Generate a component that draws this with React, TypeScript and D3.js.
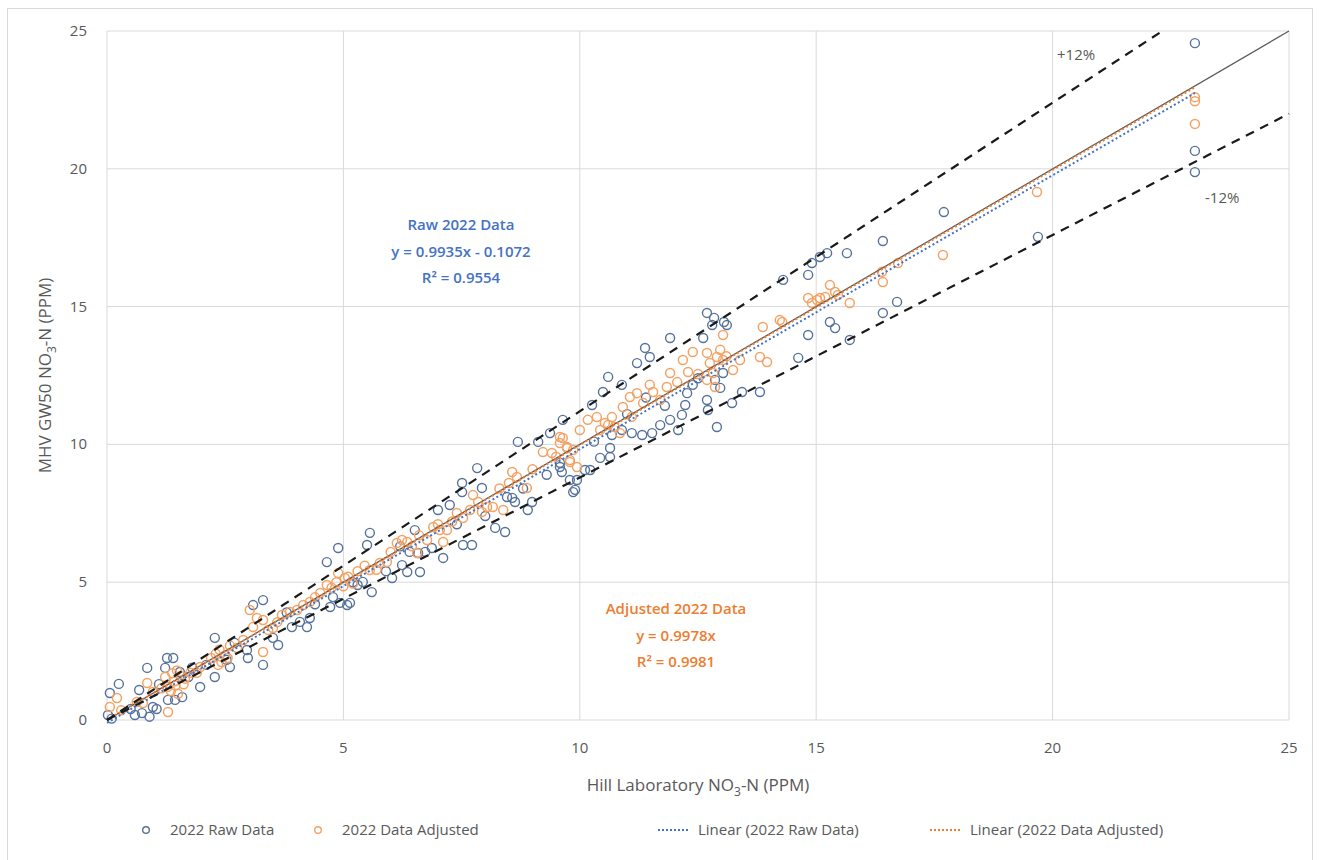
import React from "react";
import * as d3 from "d3";

// Hill Laboratory NO3-N (x) vs MHV GW50 NO3-N (y), ppm
const rawData: [number, number][] = [
  [0.02, 0.18], [0.06, 0.98], [0.25, 1.31], [0.59, 0.18], [0.68, 1.09], [0.74, 0.25],
  [0.85, 1.89], [0.97, 0.47], [0.9, 0.12], [1.27, 2.25], [1.4, 2.25], [1.23, 1.89],
  [1.29, 0.73], [1.44, 0.73], [1.59, 0.83], [1.54, 1.74], [1.72, 1.56], [1.97, 1.2],
  [2.28, 2.98], [2.28, 1.56], [2.53, 2.18], [2.6, 1.92], [2.96, 2.54], [2.98, 2.25],
  [3.09, 4.17], [3.3, 4.35], [3.3, 2.0], [3.51, 2.98], [3.62, 2.72], [3.91, 3.37],
  [4.08, 3.56], [4.23, 3.37], [4.29, 3.7], [4.78, 4.46], [4.93, 4.25], [5.08, 4.17],
  [4.65, 5.73], [4.89, 6.24], [5.56, 6.79], [5.5, 6.35], [4.72, 4.1], [5.14, 4.25],
  [5.41, 5.01], [5.6, 4.64], [6.03, 5.15], [6.24, 5.62], [6.35, 5.37], [6.62, 5.37],
  [6.51, 6.89], [6.87, 6.24], [7.0, 7.62], [7.11, 5.88], [7.25, 7.8], [7.51, 8.6],
  [7.51, 8.27], [7.53, 6.35], [7.72, 6.35], [7.83, 9.14], [7.93, 8.42], [8.21, 6.97],
  [8.42, 6.82], [8.46, 8.09], [8.57, 8.06], [8.63, 7.91], [8.69, 10.09], [8.9, 7.62],
  [8.99, 7.91], [9.12, 10.09], [9.37, 10.41], [9.58, 9.33], [9.62, 9.0], [9.79, 8.71],
  [9.86, 8.27], [9.94, 8.71], [10.11, 9.07], [6.58, 6.06], [6.73, 6.1], [1.05, 0.4],
  [11.91, 13.86], [11.38, 13.5], [11.48, 13.17], [11.21, 12.95], [10.6, 12.45],
  [10.89, 12.16], [10.49, 11.9], [10.26, 11.43], [9.64, 10.89], [9.58, 9.18],
  [9.9, 8.35], [10.22, 9.07], [10.43, 9.51], [10.64, 9.54], [10.64, 9.87],
  [10.68, 10.34], [10.89, 10.52], [11.1, 10.41], [11.32, 10.34], [11.53, 10.41],
  [11.7, 10.7], [11.91, 10.89], [12.08, 10.52], [12.16, 11.07], [12.23, 11.43],
  [12.27, 11.86], [12.39, 12.16], [12.69, 11.61], [12.71, 11.25], [12.86, 12.34],
  [12.97, 12.05], [12.9, 10.63], [13.22, 11.5], [13.43, 11.9], [13.81, 11.9],
  [12.61, 13.86], [12.8, 14.33], [13.11, 14.33], [13.03, 12.59], [12.69, 14.77],
  [12.84, 14.59], [13.05, 14.44], [14.3, 15.97], [14.83, 16.15], [14.91, 16.58],
  [15.08, 16.8], [15.23, 16.94], [15.65, 16.94], [16.41, 17.38], [14.83, 13.97],
  [15.29, 14.44], [15.4, 14.22], [15.71, 13.79], [14.62, 13.14], [16.41, 14.77],
  [16.71, 15.17], [17.7, 18.43], [19.69, 17.53], [23.01, 24.56], [23.01, 20.65],
  [23.01, 19.88], [5.3, 4.9], [5.9, 5.4], [6.4, 6.1], [8.0, 7.4], [8.8, 8.4],
  [9.3, 8.9], [11.0, 11.1], [11.8, 11.4], [12.5, 12.4], [0.1, 0.05], [0.5, 0.4],
  [1.1, 1.3], [1.8, 1.9], [2.1, 2.0], [2.7, 2.8], [3.8, 3.9], [4.4, 4.2],
  [5.2, 5.0], [6.2, 6.3], [7.4, 7.1], [10.3, 10.1], [11.4, 11.7],
];

const adjData: [number, number][] = [
  [0.06, 0.47], [0.21, 0.8], [0.85, 1.34], [0.63, 0.65], [0.76, 0.62], [0.97, 1.02],
  [1.29, 0.29], [1.23, 1.56], [1.28, 1.2], [1.35, 1.05], [1.42, 1.4], [1.5, 0.95],
  [1.56, 1.6], [1.62, 1.3], [1.38, 1.7], [1.48, 1.8], [1.76, 1.71], [1.9, 1.71],
  [1.97, 1.92], [2.3, 2.4], [2.38, 2.55], [2.42, 2.1], [2.5, 2.35], [2.35, 2.0],
  [2.55, 2.25], [2.75, 2.61], [2.88, 2.9], [3.02, 3.99], [3.09, 3.37], [3.17, 3.7],
  [3.3, 3.63], [3.3, 2.47], [3.41, 3.27], [3.51, 3.34], [3.7, 3.81], [3.87, 3.92],
  [4.02, 3.99], [4.15, 4.17], [4.29, 4.28], [4.51, 4.61], [4.65, 4.9], [4.89, 5.33],
  [5.03, 5.15], [4.75, 4.8], [4.85, 5.0], [5.0, 4.85], [5.1, 5.2], [5.2, 4.95],
  [5.3, 5.4], [5.56, 5.44], [5.77, 5.7], [5.92, 5.73], [6.13, 6.42], [6.24, 6.53],
  [6.35, 6.46], [6.56, 6.06], [6.77, 6.53], [6.9, 7.0], [7.04, 6.89], [7.19, 6.89],
  [7.11, 6.46], [7.4, 7.51], [7.53, 7.33], [7.68, 7.62], [7.74, 8.16], [7.85, 7.91],
  [7.93, 7.55], [8.04, 7.73], [8.16, 7.73], [8.38, 7.62], [8.57, 9.0], [8.67, 8.82],
  [8.88, 8.42], [9.22, 9.72], [9.41, 9.69], [9.58, 10.05], [9.73, 9.87], [9.86, 9.8],
  [9.79, 9.36], [9.94, 9.18], [9.64, 10.23], [9.58, 10.27], [9.73, 9.91], [9.79, 9.43],
  [10.0, 10.52], [10.17, 10.89], [10.36, 10.99], [10.43, 10.52], [10.53, 10.78],
  [10.68, 10.99], [10.74, 10.63], [10.85, 10.41], [10.91, 11.36], [11.06, 11.72],
  [11.21, 11.86], [11.34, 11.5], [11.48, 12.16], [11.55, 11.9], [11.7, 11.61],
  [11.84, 12.08], [11.91, 12.59], [12.06, 12.26], [12.18, 13.06], [12.29, 12.63],
  [12.39, 13.35], [12.69, 13.32], [12.75, 12.95], [12.82, 12.59], [12.9, 13.17],
  [12.97, 13.43], [13.03, 13.06], [12.86, 12.08], [12.69, 12.34], [13.24, 12.7],
  [13.39, 13.06], [13.03, 13.97], [13.87, 14.26], [13.81, 13.17], [13.96, 12.99],
  [14.28, 14.44], [14.23, 14.51], [14.83, 15.31], [14.91, 15.13], [15.02, 15.24],
  [15.08, 15.31], [15.19, 15.35], [15.29, 15.78], [15.4, 15.53], [15.46, 15.42],
  [15.71, 15.13], [16.39, 16.26], [16.41, 15.89], [16.73, 16.58], [17.68, 16.87],
  [19.67, 19.16], [23.01, 22.6], [23.01, 22.45], [23.01, 21.63], [6.0, 6.1],
  [6.6, 6.7], [7.3, 7.2], [8.3, 8.4], [9.0, 9.1], [0.3, 0.35], [1.15, 1.15],
  [1.45, 1.25], [1.65, 1.5], [2.2, 2.25], [2.6, 2.7], [3.6, 3.55], [4.4, 4.45],
  [5.45, 5.6], [5.7, 5.45], [6.45, 6.3], [7.0, 7.1], [8.5, 8.6], [9.5, 9.55],
  [10.6, 10.7], [11.1, 11.0], [12.5, 12.55], [13.1, 13.2],
];

// Fitted trendlines (slope, intercept) and the ±12% band
const rawFit = { slope: 0.9935, intercept: -0.1072, r2: 0.9554 };
const adjFit = { slope: 0.9978, intercept: 0, r2: 0.9981 };
const bandPct = 0.12;
const xTicks = [0, 5, 10, 15, 20, 25];
const yTicks = [0, 5, 10, 15, 20, 25];
const fitXMax = 23.01;

const legendItems = [
  { label: "2022 Raw Data", kind: "rawMarker", x: 146 },
  { label: "2022 Data Adjusted", kind: "adjMarker", x: 318 },
  { label: "Linear (2022 Raw Data)", kind: "rawLine", x: 658 },
  { label: "Linear (2022 Data Adjusted)", kind: "adjLine", x: 930 },
];

const W = 1320;
const H = 860;
const margin = { left: 107, right: 31, top: 31, bottom: 140 };
const FONT = "'Open Sans', 'Noto Sans', sans-serif";
const RAW_STROKE = "#56729c";
const ADJ_STROKE = "#f4a264";
const RAW_LINE = "#4472c4";
const ADJ_LINE = "#ed7d31";
const GRID = "#d9d9d9";
const TEXT = "#595959";

export default function App() {
  const x = d3.scaleLinear().domain([0, 25]).range([margin.left, W - margin.right]);
  const y = d3.scaleLinear().domain([0, 25]).range([H - margin.bottom, margin.top]);
  const line = d3
    .line<[number, number]>()
    .x((d) => x(d[0]))
    .y((d) => y(d[1]));

  const upperEnd = 25 / (1 + bandPct);
  const upper: [number, number][] = [[0, 0], [upperEnd, 25]];
  const lower: [number, number][] = [[0, 0], [25, 25 * (1 - bandPct)]];
  const oneToOne: [number, number][] = [[0, 0], [25, 25]];
  const rawTrend: [number, number][] = [0, fitXMax].map((v) => [
    v,
    rawFit.slope * v + rawFit.intercept,
  ]);
  const adjTrend: [number, number][] = [0, fitXMax].map((v) => [
    v,
    adjFit.slope * v + adjFit.intercept,
  ]);

  const legendY = 830;

  return (
    <svg
      width={W}
      height={H}
      style={{ position: "absolute", left: 0, top: 0, background: "#fff" }}
      fontFamily={FONT}
    >
      <rect x={7.5} y={8.5} width={1305} height={860} fill="#fff" stroke="#d9d9d9" />

      {/* gridlines */}
      {xTicks.map((t) => (
        <line key={"gx" + t} x1={x(t)} x2={x(t)} y1={y(0)} y2={y(25)} stroke={GRID} strokeWidth={1} />
      ))}
      {yTicks.map((t) => (
        <line key={"gy" + t} x1={x(0)} x2={x(25)} y1={y(t)} y2={y(t)} stroke={GRID} strokeWidth={1} />
      ))}

      {/* tick labels */}
      {xTicks.map((t) => (
        <text key={"tx" + t} x={x(t)} y={y(0) + 33} textAnchor="middle" fontSize={15} fill={TEXT}>
          {t}
        </text>
      ))}
      {yTicks.map((t) => (
        <text key={"ty" + t} x={x(0) - 20} y={y(t) + 5} textAnchor="end" fontSize={15} fill={TEXT}>
          {t}
        </text>
      ))}

      {/* axis titles */}
      <text x={x(12.5)} y={791} textAnchor="middle" fontSize={17} fill={TEXT}>
        Hill Laboratory NO
        <tspan fontSize={12} dy={5}>3</tspan>
        <tspan dy={-5}>-N (PPM)</tspan>
      </text>
      <text
        transform={`translate(51, ${y(12.5)}) rotate(-90)`}
        textAnchor="middle"
        fontSize={17}
        fill={TEXT}
      >
        MHV GW50 NO
        <tspan fontSize={12} dy={5}>3</tspan>
        <tspan dy={-5}>-N (PPM)</tspan>
      </text>

      {/* scatter markers */}
      {rawData.map((d, i) => (
        <circle key={"r" + i} cx={x(d[0])} cy={y(d[1])} r={4.5} fill="none" stroke={RAW_STROKE} strokeWidth={1.4} />
      ))}
      {adjData.map((d, i) => (
        <circle key={"a" + i} cx={x(d[0])} cy={y(d[1])} r={4.5} fill="none" stroke={ADJ_STROKE} strokeWidth={1.5} />
      ))}

      {/* 1:1 line, ±12% band and trendlines */}
      <path d={line(oneToOne) ?? ""} stroke="#595959" strokeWidth={1.3} fill="none" />
      <path d={line(adjTrend) ?? ""} stroke={ADJ_LINE} strokeWidth={2} strokeDasharray="2 2.5" fill="none" />
      <path d={line(rawTrend) ?? ""} stroke={RAW_LINE} strokeWidth={2} strokeDasharray="2 2.5" fill="none" />
      <path d={line(upper) ?? ""} stroke="#1a1a1a" strokeWidth={2.2} strokeDasharray="9 7" fill="none" />
      <path d={line(lower) ?? ""} stroke="#1a1a1a" strokeWidth={2.2} strokeDasharray="9 7" fill="none" />

      {/* band labels */}
      <text x={1057} y={60} fontSize={15} fill={TEXT}>+12%</text>
      <text x={1205} y={203} fontSize={15} fill={TEXT}>-12%</text>

      {/* regression annotations */}
      <g fontSize={15} fontWeight={600} fill={RAW_LINE} textAnchor="middle">
        <text x={461} y={230}>Raw 2022 Data</text>
        <text x={461} y={257}>
          y = {rawFit.slope.toFixed(4)}x - {Math.abs(rawFit.intercept).toFixed(4)}
        </text>
        <text x={461} y={283}>R² = {rawFit.r2.toFixed(4)}</text>
      </g>
      <g fontSize={15} fontWeight={600} fill={ADJ_LINE} textAnchor="middle">
        <text x={676} y={614}>Adjusted 2022 Data</text>
        <text x={676} y={641}>y = {adjFit.slope.toFixed(4)}x</text>
        <text x={676} y={667}>R² = {adjFit.r2.toFixed(4)}</text>
      </g>

      {/* legend */}
      {legendItems.map((it) => {
        const isLine = it.kind === "rawLine" || it.kind === "adjLine";
        const color = it.kind.startsWith("raw") ? (isLine ? RAW_LINE : RAW_STROKE) : isLine ? ADJ_LINE : ADJ_STROKE;
        return (
          <g key={it.label}>
            {isLine ? (
              <line
                x1={it.x}
                x2={it.x + 32}
                y1={legendY}
                y2={legendY}
                stroke={color}
                strokeWidth={2}
                strokeDasharray="2 2"
              />
            ) : (
              <circle cx={it.x} cy={legendY} r={3.3} fill="none" stroke={color} strokeWidth={1.4} />
            )}
            <text x={isLine ? it.x + 40 : it.x + 24} y={legendY + 5} fontSize={15} fill={TEXT}>
              {it.label}
            </text>
          </g>
        );
      })}
    </svg>
  );
}
